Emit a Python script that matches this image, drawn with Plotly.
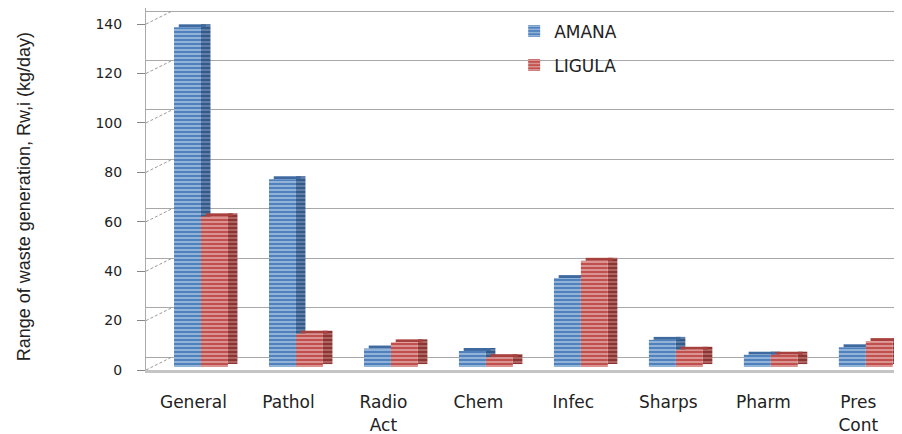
import plotly.graph_objects as go

categories = ["General", "Pathol", "Radio<br>Act", "Chem", "Infec", "Sharps", "Pharm", "Pres<br>Cont"]
amana = [137.5, 76, 7.5, 6.5, 36, 11, 5, 8]
ligula = [61, 13.5, 10, 4, 43, 7, 5, 10.5]
y_ticks = [0, 20, 40, 60, 80, 100, 120, 140]

xpos = list(range(len(categories)))

BLUE, BLUE_LT, BLUE_SIDE, BLUE_TOP = "#4f81bd", "#c9d9ee", "#365a87", "#3f6a9f"
RED, RED_LT, RED_SIDE, RED_TOP = "#c0504d", "#efc9c8", "#8a3532", "#a8403d"

W = 0.284        # front face width
SIDE = 0.10      # depth (side face width)
DEPTH_Y = 1.2    # depth in value units (vertical skew)
BACK_SHIFT = 4.05
FRONT_SHIFT = -1.2
WALL = 26 / 756  # horizontal depth of the back wall, as fraction of plot width

def pat(fg, bg):
    return dict(shape="-", fgcolor=fg, bgcolor=bg, size=4, solidity=0.28, fillmode="replace")

fig = go.Figure()

def add_series(name, vals, off, col, lt, side, top, side_lt, group):
    fig.add_trace(go.Bar(x=xpos, y=vals, base=[DEPTH_Y] * len(vals), offset=off + W, width=SIDE,
                         marker=dict(color=side, line=dict(width=0), pattern=pat(side_lt, side)),
                         showlegend=False, hoverinfo="skip", legendgroup=group))
    fig.add_trace(go.Bar(x=xpos, y=[DEPTH_Y] * len(vals), base=vals, offset=off + SIDE / 2, width=W,
                         marker=dict(color=top, line=dict(width=0)),
                         showlegend=False, hoverinfo="skip", legendgroup=group))
    fig.add_trace(go.Bar(x=xpos, y=vals, offset=off, width=W, name=name, legendgroup=group,
                         marker=dict(color=col, line=dict(width=0), pattern=pat(lt, col))))

add_series("AMANA", amana, -0.205, BLUE, BLUE_LT, BLUE_SIDE, BLUE_TOP, "#7f9cc4", "a")
add_series("LIGULA", ligula, -0.205 + W, RED, RED_LT, RED_SIDE, RED_TOP, "#c98a88", "b")

# front tick-label axis (overlay, no grid)
fig.add_trace(go.Scatter(x=[], y=[], xaxis="x", yaxis="y2", showlegend=False, hoverinfo="skip"))

# dashed connectors from front axis ticks to back wall
cx, cy = [], []
for v in y_ticks:
    cx += [0, 1, None]
    cy += [v + FRONT_SHIFT, v + BACK_SHIFT, None]
fig.add_trace(go.Scatter(x=cx, y=cy, xaxis="x3", yaxis="y", mode="lines",
                         line=dict(color="#9a9a9a", width=1, dash="3px,2px"),
                         showlegend=False, hoverinfo="skip"))

yr = [-1.2, 145.3]
# the page body adds an 8px offset, so the figure is sized 8px smaller
fig.update_layout(
    width=894, height=426,
    margin=dict(l=138, r=0, t=0, b=64),
    paper_bgcolor="white", plot_bgcolor="white",
    barmode="overlay",
    font=dict(family="DejaVu Sans", color="#222"),
    xaxis=dict(range=[-0.5, 7.46], domain=[0, 1], tickvals=xpos, ticktext=categories,
               showgrid=False, zeroline=False, showline=True, linecolor="#c4c4c4", linewidth=3,
               ticks="", tickfont=dict(size=17, family="DejaVu Sans", color="#222"),
               ticklabelstandoff=15, automargin=False),
    yaxis=dict(range=yr, tickvals=[v + BACK_SHIFT for v in y_ticks], showticklabels=False,
               showgrid=True, gridcolor="#a8a8a8", gridwidth=1, zeroline=False,
               showline=False, ticks="", automargin=False),
    yaxis2=dict(range=[yr[0] - FRONT_SHIFT, yr[1] - FRONT_SHIFT], overlaying="y", anchor="x",
                side="left", tickvals=y_ticks,
                showgrid=False, zeroline=False, showline=True, linecolor="#aaaaaa", linewidth=1,
                ticks="outside", ticklen=8, tickcolor="#888", tickwidth=1,
                tickfont=dict(size=14, family="DejaVu Sans", color="#222"),
                ticklabelstandoff=12, automargin=False),
    xaxis3=dict(domain=[0, WALL], range=[0, 1], visible=False, anchor="y", automargin=False),
    shapes=[dict(type="rect", xref="paper", yref="paper", x0=0, x1=WALL, y0=0, y1=1,
                 fillcolor="white", line=dict(width=0), layer="between")],
    legend=dict(x=0.487, y=0.985, xanchor="left", yanchor="top", traceorder="grouped",
                tracegroupgap=9, bgcolor="rgba(0,0,0,0)",
                font=dict(size=17, family="DejaVu Sans", color="#222")),
    annotations=[dict(text="Range of waste generation, Rw,i (kg/day)", textangle=-90,
                      xref="paper", yref="paper", x=-0.161, y=0.478, xanchor="center", yanchor="middle",
                      showarrow=False, font=dict(size=18, family="Liberation Sans", color="#222"))],
)

fig.write_html("out.html")
